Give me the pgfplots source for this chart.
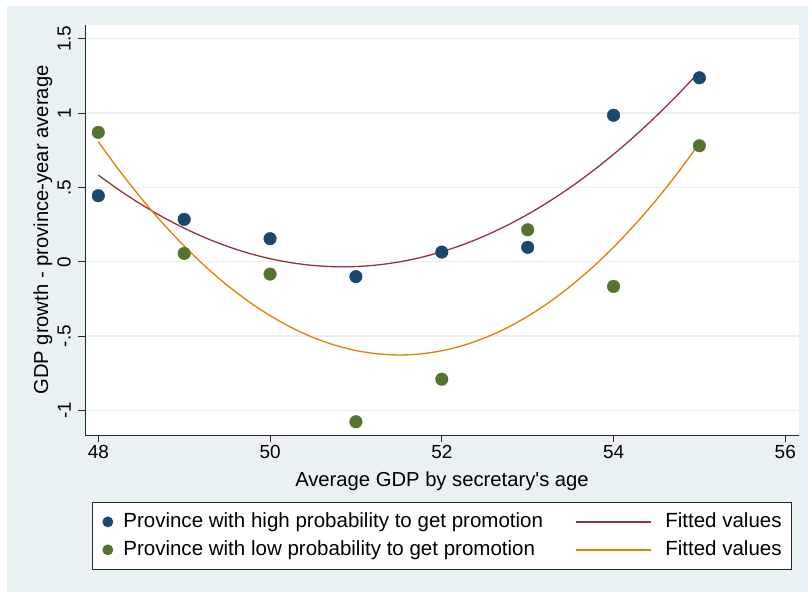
\documentclass[border=0pt]{standalone}
\usepackage{pgfplots}
\pgfplotsset{compat=1.18}
\usepackage{fontspec}
\setmainfont{Liberation Sans}
\definecolor{bgc}{RGB}{234,241,243}
\definecolor{gridc}{RGB}{232,239,242}
\definecolor{snavy}{RGB}{26,71,111}
\definecolor{smaroon}{RGB}{144,53,59}
\definecolor{sgreen}{RGB}{85,117,47}
\definecolor{sorange}{RGB}{227,126,0}
\definecolor{axc}{RGB}{40,40,40}
\pgfplotsset{
  dotleg/.style={legend image code/.code={\path[draw=none,fill=none] (-3bp,-5bp) rectangle (14bp,5bp);
    \draw[##1, mark size=5bp] plot coordinates {(2bp,0bp)};}},
  lineleg/.style={legend image code/.code={\path[draw=none,fill=none] (0bp,-2bp) rectangle (85.5bp,2bp);
    \draw[##1] (0bp,0bp) -- (75bp,0bp);}},
}
\begin{document}
\begin{tikzpicture}
\fill[white] (0,0) rectangle (808bp,592bp);
\fill[bgc] (7bp,0) rectangle (808bp,586bp);
\useasboundingbox (0,0) rectangle (808bp,592bp);
\begin{axis}[
  at={(85bp,157bp)}, anchor=south west,
  scale only axis, width=714bp, height=410bp,
  xmin=47.845, xmax=56.16, ymin=-1.165, ymax=1.592,
  axis x line*=bottom, axis y line*=left,
  axis line style={axc, line width=0.9bp, -},
  axis background/.style={fill=white},
  xtick={48,50,52,54,56}, xticklabels={48,50,52,54,56},
  ytick={-1,-0.5,0,0.5,1,1.5}, yticklabels={-1,-.5,0,.5,1,1.5},
  tick align=outside, major tick length=7bp,
  tick style={axc, line width=0.9bp},
  ymajorgrids, grid style={gridc, line width=1.5bp},
  ticklabel style={font=\fontsize{19}{22}\selectfont},
  yticklabel style={rotate=90, anchor=south, inner sep=7bp},
  xticklabel style={inner sep=3bp},
  xlabel={Average GDP by secretary\textquotesingle s age},
  ylabel={GDP growth - province-year average},
  label style={font=\fontsize{20.3}{24}\selectfont},
  xlabel style={at={(axis description cs:0.5,-0.1268)}, anchor=base},
  ylabel style={at={(axis description cs:-0.0518,0.5)}, anchor=base},
  legend columns=2,
  legend cell align=left,
  legend style={at={(axis description cs:0.0104,-0.1627)}, anchor=north west,
    draw=axc, line width=0.8bp, fill=white, inner xsep=10bp, inner ysep=6.5bp,
    font=\fontsize{20.6}{24}\selectfont, row sep=1.5bp,
    nodes={inner xsep=0bp, inner ysep=3bp, text height=16bp, text depth=4.5bp},
    /tikz/every odd column/.append style={column sep=3.5bp},
    /tikz/every even column/.append style={column sep=32.5bp}},
]
\addplot[only marks, mark=*, mark size=6.3bp, color=snavy, dotleg]
  coordinates {(48,0.444) (49,0.285) (50,0.155) (51,-0.100) (52,0.065) (53,0.097) (54,0.985) (55,1.237)};
\addlegendentry{Province with high probability to get promotion}
\addplot[smaroon, line width=1.3bp, smooth, lineleg]
  coordinates {(48,0.5829) (48.25,0.4794) (48.5,0.3853) (48.75,0.3007) (49,0.2257) (49.25,0.1602) (49.5,0.1042) (49.75,0.0576) (50,0.0206) (50.25,-0.0068) (50.5,-0.0248) (50.75,-0.0333) (51,-0.0323) (51.25,-0.0216) (51.5,-0.0016) (51.75,0.0280) (52,0.0671) (52.25,0.1157) (52.5,0.1738) (52.75,0.2414) (53,0.3186) (53.25,0.4052) (53.5,0.5014) (53.75,0.6070) (54,0.7223) (54.25,0.8469) (54.5,0.9811) (54.75,1.1248) (55,1.2781)};
\addlegendentry{Fitted values}
\addplot[only marks, mark=*, mark size=6.3bp, color=sgreen, dotleg]
  coordinates {(48,0.870) (49,0.056) (50,-0.083) (51,-1.076) (52,-0.790) (53,0.215) (54,-0.166) (55,0.780)};
\addlegendentry{Province with low probability to get promotion}
\addplot[sorange, line width=1.3bp, smooth, lineleg]
  coordinates {(48,0.8069) (48.25,0.6097) (48.5,0.4271) (48.75,0.2591) (49,0.1057) (49.25,-0.0332) (49.5,-0.1575) (49.75,-0.2672) (50,-0.3622) (50.25,-0.4428) (50.5,-0.5088) (50.75,-0.5602) (51,-0.5970) (51.25,-0.6193) (51.5,-0.6270) (51.75,-0.6201) (52,-0.5986) (52.25,-0.5626) (52.5,-0.5120) (52.75,-0.4468) (53,-0.3670) (53.25,-0.2726) (53.5,-0.1637) (53.75,-0.0402) (54,0.0979) (54.25,0.2505) (54.5,0.4177) (54.75,0.5995) (55,0.7959)};
\addlegendentry{Fitted values}
\end{axis}
\end{tikzpicture}
\end{document}
